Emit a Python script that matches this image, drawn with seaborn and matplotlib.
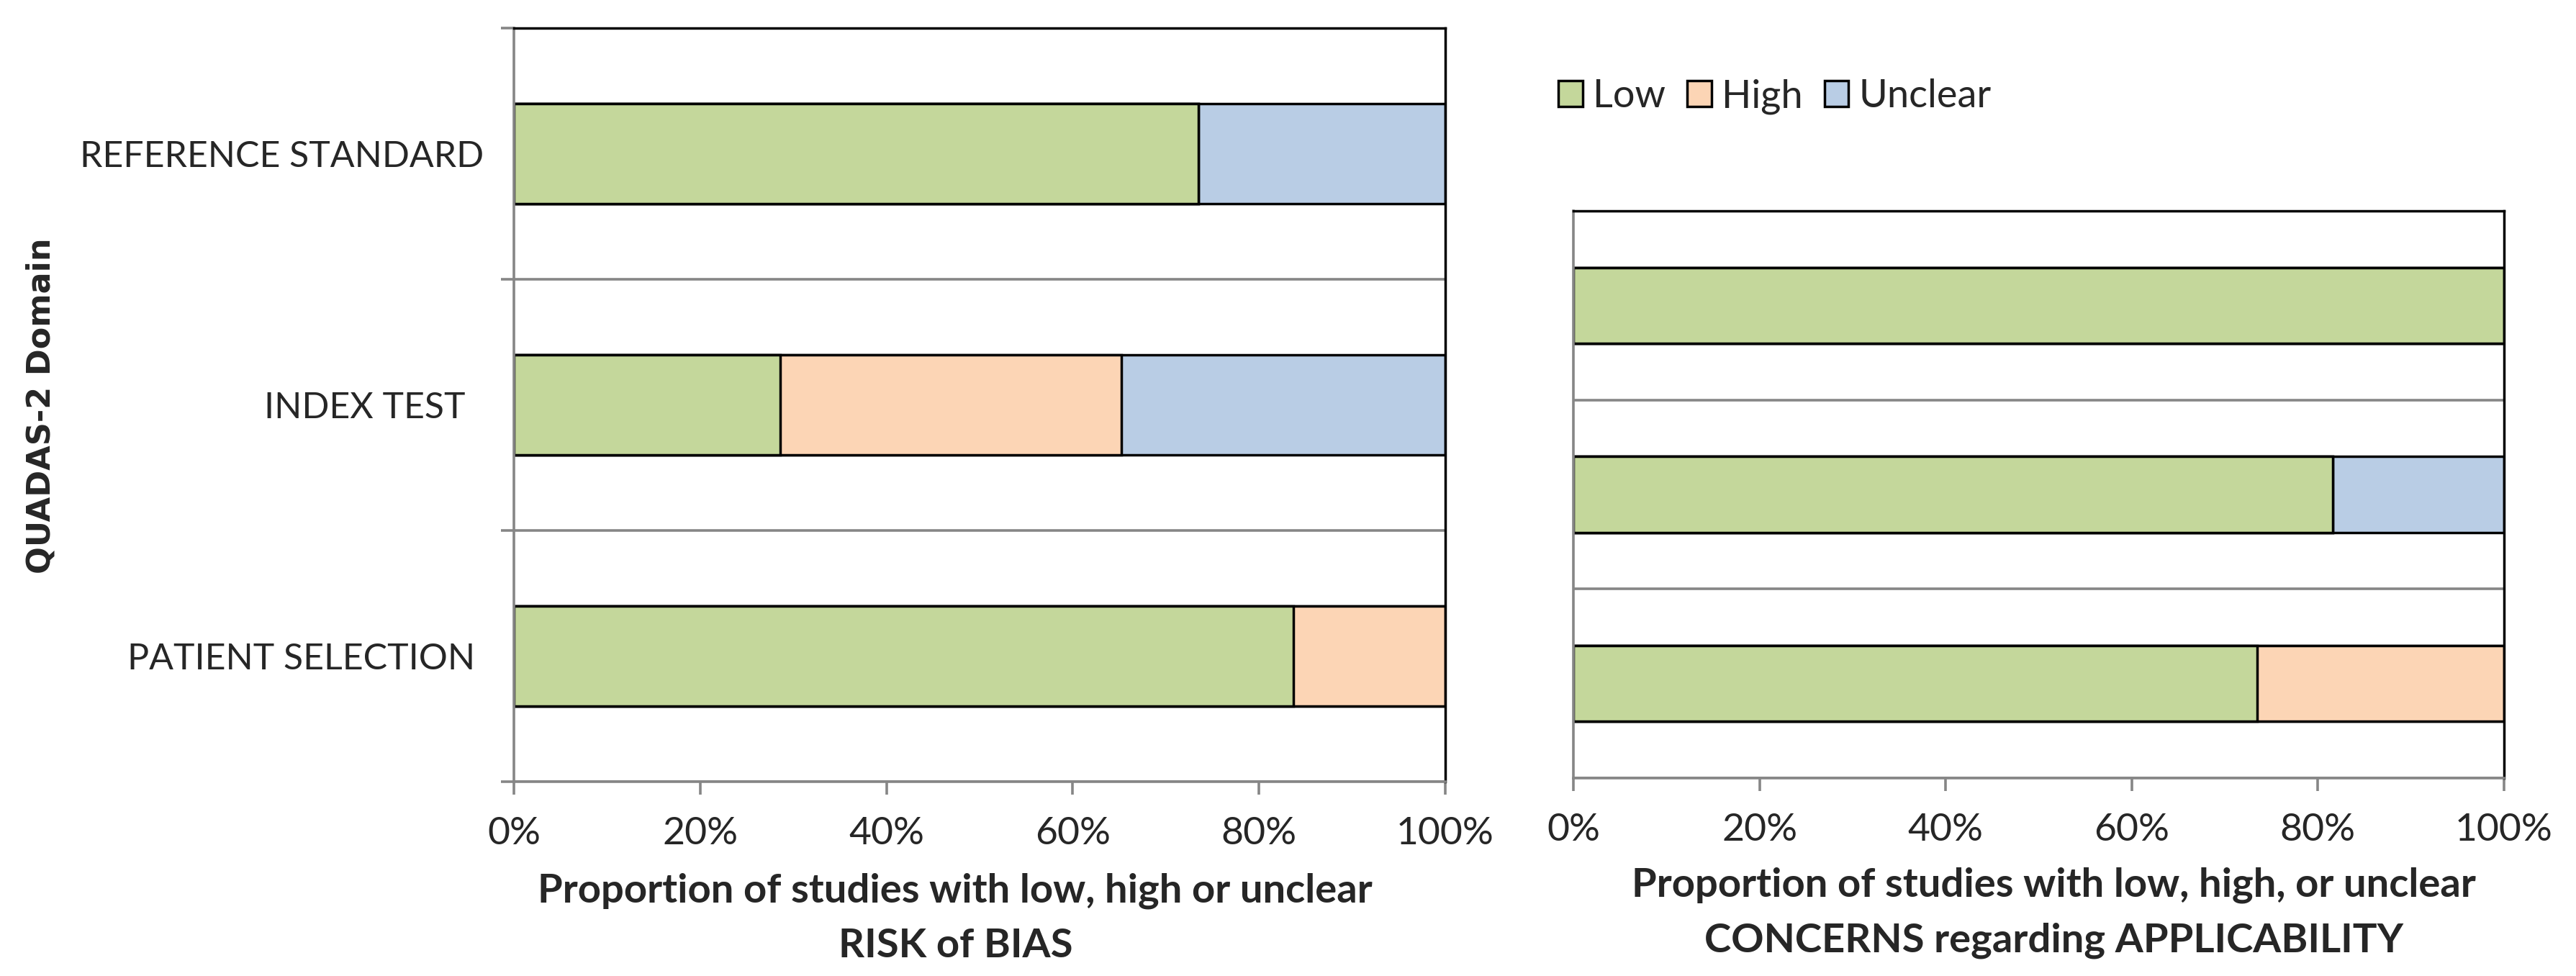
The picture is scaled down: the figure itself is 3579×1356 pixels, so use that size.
import matplotlib
matplotlib.use("Agg")
import matplotlib.pyplot as plt
import seaborn as sns
import pandas as pd
from matplotlib.patches import Patch
from matplotlib.transforms import ScaledTranslation

# ---------------- data ----------------
domains = ["REFERENCE STANDARD", "INDEX TEST", "PATIENT SELECTION"]
rob_low = [0.735, 0.286, 0.837]
rob_high = [0.000, 0.366, 0.163]
rob_unclear = [0.265, 0.348, 0.000]
app_low = [1.000, 0.816, 0.735]
app_high = [0.000, 0.000, 0.265]
app_unclear = [0.000, 0.184, 0.000]
xtick_vals = [0.0, 0.2, 0.4, 0.6, 0.8, 1.0]
xtick_labels = ["0%", "20%", "40%", "60%", "80%", "100%"]
legend_labels = ["Low", "High", "Unclear"]
xlabel_rob = "Proportion of studies with low, high or unclear\nRISK of BIAS"
xlabel_app = "Proportion of studies with low, high, or unclear\nCONCERNS regarding APPLICABILITY"
ylabel_txt = "QUADAS-2 Domain"

# ---------------- style ----------------
GREEN = "#C4D79B"
PEACH = "#FCD5B5"
BLUE = "#B9CDE5"
GRAY = "#868686"
sns.set_style("white")
plt.rcParams["font.family"] = ["Lato", "DejaVu Sans"]

W, H, DPI = 3580, 1356, 100
fig = plt.figure(figsize=(W / DPI, H / DPI), dpi=DPI, facecolor="white")

ax1 = fig.add_axes([714 / W, 1 - 1086 / H, 1294 / W, 1047 / H])
ax2 = fig.add_axes([2186 / W, 1 - 1081 / H, 1293 / W, 788 / H])

CAT_FS = 36
TICK_FS = 38.5
XLAB_FS = 40.5
LEG_FS = 39
GRAY_LW = 2.6
BLACK_LW = 2.5


def stacked(ax, low, high, unclear):
    df = pd.DataFrame({"domain": domains, "low": low, "high": high, "unclear": unclear})
    df["cum_high"] = df["low"] + df["high"]
    df["cum_all"] = df["cum_high"] + df["unclear"]
    for col, c in [("cum_all", BLUE), ("cum_high", PEACH), ("low", GREEN)]:
        sns.barplot(data=df, x=col, y="domain", order=domains, orient="h",
                    color=c, saturation=1, width=0.4, edgecolor="black",
                    linewidth=BLACK_LW, ax=ax, errorbar=None)


def style_axes(ax, show_cats, show_ytick_marks):
    ax.set_xlim(0, 1)
    ax.set_ylim(2.5, -0.5)
    ax.set_facecolor("white")
    ax.set_axisbelow(True)
    ax.set_xticks(xtick_vals)
    ax.set_xticklabels(xtick_labels, fontsize=TICK_FS)
    ax.tick_params(axis="x", which="major", direction="out", length=13,
                   width=GRAY_LW, color=GRAY, pad=22, bottom=True)
    ax.set_yticks([0, 1, 2])
    if show_cats:
        ax.set_yticklabels(domains, fontsize=CAT_FS)
    else:
        ax.set_yticklabels([])
    ax.set_yticks([-0.5, 0.5, 1.5, 2.5], minor=True)
    ax.tick_params(axis="y", which="major", length=0, pad=30, left=True)
    ax.tick_params(axis="y", which="minor", direction="out",
                   length=13 if show_ytick_marks else 0,
                   width=GRAY_LW, color=GRAY, left=True)
    ax.grid(False)
    ax.grid(True, which="minor", axis="y", color=GRAY, linewidth=GRAY_LW)
    for side in ["left", "bottom"]:
        ax.spines[side].set_color(GRAY)
        ax.spines[side].set_linewidth(GRAY_LW)
        ax.spines[side].set_visible(True)
    for side in ["top", "right"]:
        ax.spines[side].set_color("black")
        ax.spines[side].set_linewidth(BLACK_LW)
        ax.spines[side].set_visible(True)
    ax.set_ylabel("")


stacked(ax1, rob_low, rob_high, rob_unclear)
stacked(ax2, app_low, app_high, app_unclear)
style_axes(ax1, True, True)
style_axes(ax2, False, False)

# small horizontal offsets of category labels (trailing spaces in original)
offsets_px = [0, -26, -12]
for lab, dx in zip(ax1.get_yticklabels(), offsets_px):
    lab.set_transform(lab.get_transform() + ScaledTranslation(dx / DPI, 0, fig.dpi_scale_trans))

ax1.set_xlabel(xlabel_rob, fontsize=XLAB_FS, fontweight="bold", linespacing=1.64)
ax1.xaxis.set_label_coords(0.474, -0.181)
ax1.xaxis.label.set_va("center")
ax2.set_xlabel(xlabel_app, fontsize=XLAB_FS, fontweight="bold", linespacing=1.64)
ax2.xaxis.set_label_coords(0.516, -0.238)
ax2.xaxis.label.set_va("center")

fig.text(57 / W, 1 - 564 / H, ylabel_txt, rotation=90, ha="center", va="center",
         fontsize=32, fontweight="bold", family=["DejaVu Sans"])

handles = [Patch(facecolor=c, edgecolor="black", linewidth=BLACK_LW)
           for c in [GREEN, PEACH, BLUE]]
fig.legend(handles, legend_labels, loc="center left",
           bbox_to_anchor=(2165 / W, 1 - 134 / H), ncol=3, frameon=False,
           fontsize=LEG_FS, handlelength=0.62, handleheight=0.63,
           handletextpad=0.27, columnspacing=0.55, borderpad=0, borderaxespad=0)

fig.savefig("out.png", dpi=DPI, facecolor="white")
